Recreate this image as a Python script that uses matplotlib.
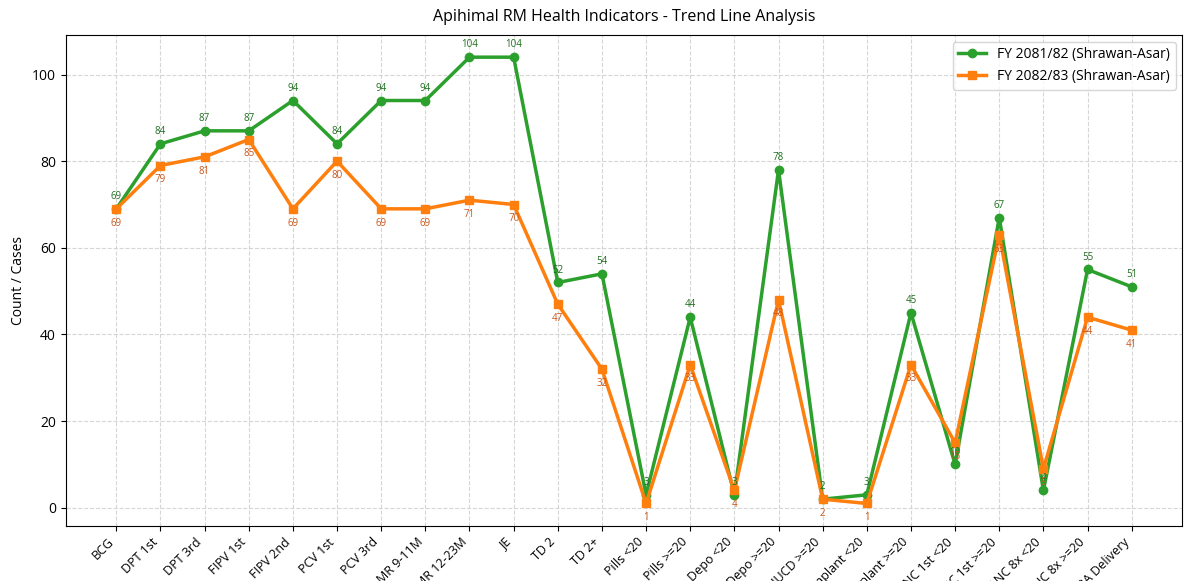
import numpy as np
import matplotlib.pyplot as plt

plt.rcParams['font.family'] = ['Open Sans', 'DejaVu Sans']

indicators = ['BCG', 'DPT 1st', 'DPT 3rd', 'FIPV 1st', 'FIPV 2nd', 'PCV 1st', 'PCV 3rd',
              'MR 9-11M', 'MR 12-23M', 'JE', 'TD 2', 'TD 2+', 'Pills <20', 'Pills >=20',
              'Depo <20', 'Depo >=20', 'IUCD >=20', 'Implant <20', 'Implant >=20',
              'ANC 1st <20', 'ANC 1st >=20', 'ANC 8x <20', 'ANC 8x >=20', 'SBA Delivery']
fy_8182 = [69, 84, 87, 87, 94, 84, 94, 94, 104, 104, 52, 54, 3, 44, 3, 78, 2, 3, 45, 10, 67, 4, 55, 51]
fy_8283 = [69, 79, 81, 85, 69, 80, 69, 69, 71, 70, 47, 32, 1, 33, 4, 48, 2, 1, 33, 15, 63, 9, 44, 41]

x = np.arange(len(indicators))

fig, ax = plt.subplots(figsize=(11.92, 5.81), dpi=100)
ax.plot(x, fy_8182, color='#2ca02c', marker='o', linewidth=2.5, markersize=6,
        label='FY 2081/82 (Shrawan-Asar)')
ax.plot(x, fy_8283, color='#ff7f0e', marker='s', linewidth=2.5, markersize=6,
        label='FY 2082/83 (Shrawan-Asar)')

# value labels: green above, orange below
for i in x:
    ax.annotate(str(fy_8182[i]), (i, fy_8182[i]), textcoords='offset points', xytext=(0, 7),
                ha='center', fontsize=7, color='#1f6e1f')
    ax.annotate(str(fy_8283[i]), (i, fy_8283[i]), textcoords='offset points', xytext=(0, -12),
                ha='center', fontsize=7, color='#c9561a')

ax.set_xticks(x)
ax.set_xticklabels(indicators, rotation=45, ha='right', fontsize=9)
ax.tick_params(axis='y', labelsize=10)
ax.set_ylabel('Count / Cases', fontsize=10)
ax.set_title('Apihimal RM Health Indicators - Trend Line Analysis', fontsize=11.5, pad=10)
ax.grid(True, linestyle='--', color='#cccccc', alpha=0.8)
ax.legend(loc='upper right', fontsize=10)

plt.subplots_adjust(left=0.055, right=0.992, top=0.94, bottom=0.095)
plt.savefig('out.png', dpi=100)
